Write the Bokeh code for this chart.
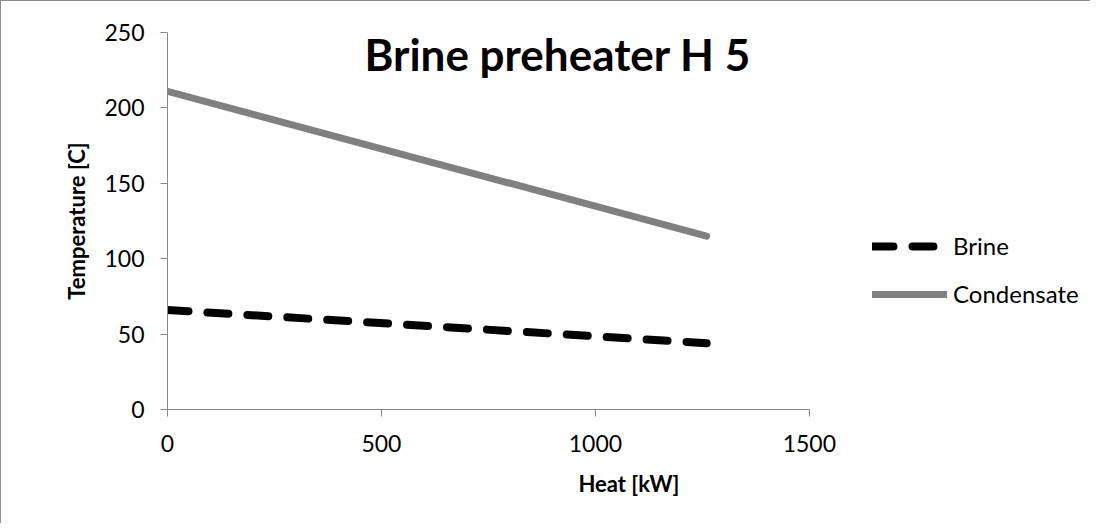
from bokeh.plotting import figure
from bokeh.models import Range1d, Legend, LegendItem, Label, FixedTicker
from bokeh.embed import file_html
from bokeh.resources import INLINE

heat = [0, 1260]
brine = [66, 44]
condensate = [211, 115]
x_ticks = [0, 500, 1000, 1500]
y_ticks = [0, 50, 100, 150, 200, 250]
x_axis_end = 1500
title_text = "Brine preheater H 5"

FONT = "Lato"

# frame spans past the x axis end so the legend can sit to its right
p = figure(width=1090, height=523, output_backend="svg", toolbar_location=None,
           x_range=Range1d(0, 2157), y_range=Range1d(0, 250),
           min_border_left=166, min_border_right=1, min_border_top=31, min_border_bottom=115)
p.styles = {"border-top": "1px solid #8c8c8c", "border-left": "1px solid #8c8c8c"}
p.outline_line_color = None
p.xgrid.visible = False
p.ygrid.visible = False

r_brine = p.line(heat, brine, line_color="black", line_width=8, line_dash="21 19", line_cap="round")
r_cond = p.line(heat, condensate, line_color="#808080", line_width=7, line_cap="round")

for ax in (p.xaxis[0], p.yaxis[0]):
    ax.axis_line_color = "#868686"
    ax.axis_line_width = 1
    ax.major_tick_line_color = "#868686"
    ax.major_tick_out = 7
    ax.major_tick_in = 0
    ax.minor_tick_line_color = None
    ax.major_label_text_font = FONT
    ax.major_label_text_font_size = "23px"
    ax.major_label_text_color = "black"
    ax.axis_label_text_font = FONT
    ax.axis_label_text_font_style = "bold"
    ax.axis_label_text_font_size = "22px"
    ax.axis_label_text_color = "black"

p.xaxis.ticker = FixedTicker(ticks=x_ticks)
p.yaxis.ticker = FixedTicker(ticks=y_ticks)
p.xaxis.bounds = (0, x_axis_end)
p.xaxis.axis_label = "Heat [kW]"
p.yaxis.axis_label = "Temperature [C]"
p.xaxis.major_label_standoff = 18
p.yaxis.major_label_standoff = 16
p.xaxis.axis_label_standoff = 15
p.yaxis.axis_label_standoff = 11

title = Label(x=912, y=236, text=title_text, text_font=FONT, text_font_style="bold",
              text_font_size="44px", text_align="center", text_baseline="alphabetic",
              text_color="black")
p.add_layout(title)

legend = Legend(items=[LegendItem(label="Brine", renderers=[r_brine]),
                       LegendItem(label="Condensate", renderers=[r_cond])],
                location=(705, 101), orientation="vertical",
                glyph_width=75, glyph_height=24, label_height=24, label_standoff=6,
                spacing=19, padding=0, margin=0,
                border_line_color=None, background_fill_alpha=0,
                label_text_font=FONT, label_text_font_size="24px", label_text_color="black")
p.add_layout(legend)

open("out.html", "w").write(file_html(p, INLINE))
